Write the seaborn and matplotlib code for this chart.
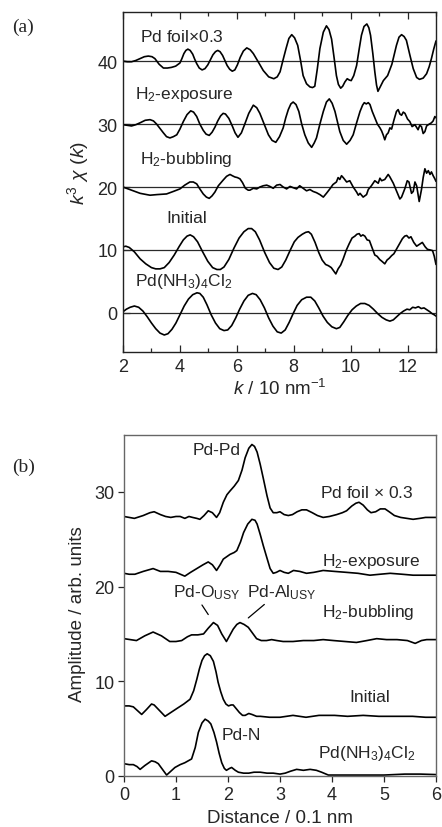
import numpy as np
import pandas as pd
import matplotlib
matplotlib.use("Agg")
import matplotlib.pyplot as plt
from matplotlib.ticker import MultipleLocator
import seaborn as sns

# ---------------- data: panel (a) k^3 chi(k), values relative to each baseline ----------------
k_foil = [2.00, 2.15, 2.30, 2.45, 2.60, 2.75, 2.89, 3.02, 3.12, 3.27, 3.42, 3.56, 3.70, 3.85, 4.00, 4.07, 4.14, 4.21, 4.28, 4.36,
          4.45, 4.52, 4.59, 4.68, 4.78, 4.88, 4.98, 5.07, 5.16, 5.25, 5.33, 5.41, 5.50, 5.58, 5.66, 5.75, 5.84, 5.93, 6.02, 6.12,
          6.23, 6.35, 6.47, 6.58, 6.75, 6.93, 7.12, 7.30, 7.42, 7.52, 7.62, 7.73, 7.83, 7.93, 8.03, 8.14, 8.24, 8.33, 8.45, 8.57,
          8.66, 8.74, 8.83, 8.92, 9.04, 9.15, 9.24, 9.33, 9.42, 9.50, 9.57, 9.65, 9.72, 9.80, 9.88, 9.95, 10.02, 10.11, 10.21, 10.30,
          10.38, 10.47, 10.57, 10.64, 10.70, 10.78, 10.85, 10.91, 10.96, 11.05, 11.15, 11.30, 11.45, 11.53, 11.61, 11.70, 11.79, 11.88, 11.96, 12.08,
          12.20, 12.32, 12.42, 12.55, 12.67, 12.76, 12.84, 12.92, 13.00]
chi_foil = [0.0, -0.1, -0.1, 0.1, 0.4, 0.7, 0.8, 0.7, 0.4, -0.5, -1.1, -1.1, -1.0, -0.8, -0.3, 0.4, 1.2, 1.7, 1.9, 1.7,
            1.1, 0.3, -0.4, -1.1, -1.4, -1.2, -0.6, 0.2, 1.0, 1.5, 1.7, 1.5, 0.9, 0.1, -0.7, -1.3, -1.6, -1.4, -0.6, 0.6,
            1.6, 2.1, 1.8, 1.2, -0.1, -1.5, -2.5, -2.8, -2.5, -1.7, 0.1, 2.0, 3.6, 4.2, 3.7, 2.5, 0.1, -2.3, -3.6, -4.1,
            -4.2, -4.0, -1.2, 2.0, 4.6, 5.6, 5.0, 3.5, 0.5, -2.3, -3.7, -4.3, -4.0, -3.3, -2.8, -3.0, -3.1, -2.3, -0.7, 1.9,
            4.1, 5.5, 5.9, 5.3, 4.1, 1.2, -1.7, -3.8, -4.8, -4.0, -3.1, -2.3, -0.5, 1.0, 2.5, 3.8, 4.2, 3.9, 3.3, 1.0,
            -1.2, -2.6, -2.9, -2.7, -2.0, -0.9, 0.4, 1.9, 3.2]

k_exp = [2.00, 2.15, 2.30, 2.45, 2.60, 2.78, 2.95, 3.07, 3.18, 3.30, 3.42, 3.53, 3.65, 3.77, 3.89, 4.00, 4.12, 4.25, 4.38, 4.48,
         4.59, 4.70, 4.82, 4.92, 5.03, 5.13, 5.23, 5.33, 5.43, 5.52, 5.60, 5.72, 5.84, 5.94, 6.04, 6.16, 6.28, 6.42, 6.58, 6.70,
         6.81, 6.96, 7.11, 7.24, 7.37, 7.50, 7.63, 7.72, 7.81, 7.90, 7.98, 8.08, 8.18, 8.28, 8.39, 8.51, 8.63, 8.72, 8.80, 8.92,
         9.04, 9.15, 9.25, 9.35, 9.45, 9.54, 9.62, 9.74, 9.86, 9.98, 10.09, 10.21, 10.33, 10.42, 10.48, 10.55, 10.62, 10.68, 10.76, 10.85,
         10.94, 11.03, 11.09, 11.15, 11.20, 11.26, 11.32, 11.38, 11.44, 11.52, 11.61, 11.67, 11.73, 11.79, 11.85, 11.91, 12.00, 12.08, 12.16, 12.26,
         12.37, 12.43, 12.49, 12.55, 12.61, 12.67, 12.73, 12.84, 12.90, 12.96, 13.00]
chi_exp = [-0.1, -0.2, -0.3, -0.1, 0.2, 0.6, 0.7, 0.5, 0.0, -0.7, -1.4, -2.0, -2.2, -2.0, -1.7, -0.8, 0.4, 1.5, 2.1, 1.9,
           1.2, 0.0, -1.0, -1.6, -1.8, -1.3, -0.5, 0.5, 1.3, 1.7, 1.6, 0.9, -0.3, -1.4, -2.1, -1.4, 0.0, 1.7, 3.0, 2.6,
           1.7, 0.0, -1.7, -2.6, -2.9, -2.0, -0.6, 1.0, 2.3, 3.2, 3.5, 3.1, 2.0, 0.0, -1.7, -3.0, -3.7, -3.0, -2.2, 0.0,
           2.0, 3.5, 4.0, 3.3, 2.0, 0.3, -1.2, -2.6, -3.2, -2.6, -1.7, 0.2, 2.0, 3.0, 3.4, 3.2, 3.4, 3.1, 2.0, 1.0,
           0.0, -0.6, -1.1, -1.8, -2.5, -1.7, -1.4, -0.6, -0.8, 0.6, 2.0, 2.3, 1.6, 1.4, 1.9, 1.7, 0.8, 0.4, -0.4, -0.1,
           -0.9, -0.2, -0.4, -1.5, -1.2, -0.3, -0.1, 0.2, 0.5, 1.2, 1.0]

k_bub = [2.00, 2.18, 2.36, 2.60, 2.83, 2.95, 3.20, 3.53, 3.77, 4.00, 4.17, 4.35, 4.47, 4.59, 4.70, 4.82, 4.93, 5.03, 5.13, 5.23,
         5.35, 5.52, 5.64, 5.76, 5.84, 5.93, 6.02, 6.11, 6.20, 6.30, 6.40, 6.46, 6.58, 6.70, 6.81, 6.93, 7.05, 7.16, 7.28, 7.40,
         7.52, 7.63, 7.75, 7.87, 7.98, 8.10, 8.21, 8.33, 8.45, 8.57, 8.68, 8.80, 8.92, 9.04, 9.15, 9.27, 9.38, 9.50, 9.56, 9.62,
         9.68, 9.74, 9.86, 9.97, 10.09, 10.21, 10.27, 10.33, 10.44, 10.56, 10.62, 10.73, 10.85, 10.97, 11.03, 11.09, 11.20, 11.32, 11.38, 11.50,
         11.61, 11.73, 11.79, 11.85, 11.91, 11.99, 12.05, 12.14, 12.20, 12.26, 12.32, 12.41, 12.49, 12.55, 12.61, 12.67, 12.73, 12.79, 12.84, 12.90,
         12.96, 13.00]
chi_bub = [0.0, -0.3, -0.6, -1.0, -1.2, -1.3, -1.2, -1.1, -0.7, -0.3, 0.3, 0.8, 0.8, 0.5, -0.3, -1.1, -1.6, -1.8, -1.4, -0.8,
           0.2, 1.1, 1.7, 2.0, 1.8, 1.6, 1.5, 1.3, 0.7, -0.2, -0.5, -0.5, -0.2, -0.3, 0.0, 0.2, 0.3, 0.1, -0.2, 0.3,
           0.4, 0.0, -0.3, 0.1, -0.1, -0.3, 0.2, -0.2, -0.6, -0.4, -0.7, -0.9, -1.2, -1.6, -1.0, -0.3, 0.4, 0.8, 1.5, 1.2,
           1.8, 1.5, 0.8, 1.0, 0.0, -0.8, -1.3, -1.0, -1.6, -1.2, -0.4, 0.2, 1.0, 0.6, 1.4, 1.0, 1.2, 2.0, 1.6, 0.6,
           -0.6, -1.9, -1.6, -0.9, -0.2, 1.0, 0.8, -1.0, -0.7, 0.8, 0.2, -2.3, -0.4, 1.5, 2.9, 2.2, 2.6, 2.0, 2.4, 1.8,
           1.3, 0.9]

k_ini = [2.00, 2.10, 2.22, 2.40, 2.60, 2.80, 3.00, 3.15, 3.30, 3.45, 3.62, 3.80, 3.98, 4.12, 4.25, 4.36, 4.48, 4.62, 4.80, 4.98,
         5.15, 5.30, 5.42, 5.55, 5.72, 5.90, 6.08, 6.25, 6.40, 6.52, 6.65, 6.80, 6.98, 7.15, 7.30, 7.45, 7.58, 7.72, 7.88, 8.02,
         8.15, 8.30, 8.42, 8.52, 8.62, 8.75, 8.88, 9.00, 9.12, 9.22, 9.32, 9.40, 9.48, 9.56, 9.65, 9.74, 9.85, 9.95, 10.05, 10.15,
         10.22, 10.30, 10.36, 10.43, 10.50, 10.58, 10.66, 10.75, 10.85, 10.93, 11.02, 11.10, 11.20, 11.28, 11.36, 11.44, 11.52, 11.62, 11.72, 11.82,
         11.90, 11.97, 12.05, 12.12, 12.22, 12.32, 12.42, 12.52, 12.62, 12.70, 12.80, 12.88, 12.94, 13.00]
chi_ini = [0.5, 0.6, 0.4, -0.3, -1.4, -2.2, -2.8, -3.0, -3.0, -2.8, -2.0, -0.8, 0.6, 1.6, 2.2, 2.4, 2.1, 1.3, -0.3, -1.8,
           -2.8, -3.1, -3.1, -2.7, -1.5, 0.3, 1.9, 2.9, 3.4, 3.4, 2.9, 1.6, -0.4, -2.0, -2.9, -3.1, -2.7, -1.6, 0.0, 1.3,
           2.0, 2.5, 2.8, 2.9, 2.5, 1.2, -0.4, -1.6, -2.3, -2.5, -2.8, -3.3, -3.8, -3.0, -2.4, -1.4, 0.0, 1.0, 1.9, 2.2,
           2.5, 2.6, 2.2, 2.4, 2.2, 1.6, 1.5, 0.4, -0.8, -1.0, -1.5, -1.8, -2.2, -1.6, -1.3, -0.9, -0.6, 0.2, 1.0, 1.8,
           2.2, 2.3, 1.9, 2.1, 1.2, 0.6, 0.9, 1.2, 0.5, 0.1, 0.0, -0.1, -1.0, -2.3]

k_ref = [2.00, 2.12, 2.25, 2.40, 2.55, 2.70, 2.85, 3.00, 3.15, 3.30, 3.45, 3.58, 3.72, 3.86, 4.00, 4.15, 4.30, 4.45, 4.60, 4.70,
         4.82, 4.95, 5.10, 5.25, 5.40, 5.55, 5.68, 5.82, 5.96, 6.10, 6.25, 6.40, 6.55, 6.68, 6.82, 6.97, 7.12, 7.27, 7.42, 7.56,
         7.70, 7.84, 7.98, 8.12, 8.28, 8.45, 8.60, 8.74, 8.88, 9.03, 9.18, 9.34, 9.50, 9.62, 9.76, 9.90, 10.05, 10.20, 10.35, 10.50,
         10.65, 10.80, 10.95, 11.10, 11.25, 11.38, 11.50, 11.62, 11.74, 11.86, 11.98, 12.08, 12.18, 12.28, 12.38, 12.48, 12.58, 12.68, 12.78, 12.86,
         12.94, 13.00]
chi_ref = [0.2, 0.6, 0.9, 1.1, 0.9, 0.3, -0.6, -1.6, -2.5, -3.2, -3.5, -3.3, -2.6, -1.6, -0.3, 1.1, 2.2, 2.9, 3.2, 3.1,
           2.5, 1.3, -0.3, -1.6, -2.5, -2.8, -2.7, -2.0, -0.8, 0.6, 1.9, 2.8, 3.1, 2.9, 2.1, 0.8, -0.8, -2.1, -3.0, -3.2,
           -2.7, -1.5, -0.1, 1.2, 2.1, 2.5, 2.5, 1.9, 0.8, -0.5, -1.5, -2.2, -2.5, -2.3, -1.4, -0.4, 0.5, 1.1, 1.5, 1.5,
           1.2, 0.6, -0.1, -0.7, -1.1, -1.3, -1.1, -0.6, -0.1, 0.3, 0.6, 0.5, 0.9, 0.8, 1.0, 0.7, 0.8, 0.5, 0.2, -0.1,
           -0.3, -0.5]

offsets_a = [40, 30, 20, 10, 0]
names_a = ["Pd foil$\\times$0.3", "H$_2$-exposure", "H$_2$-bubbling", "Initial", "Pd(NH$_3$)$_4$Cl$_2$"]
label_pos_a = [(2.6, 44.0), (2.42, 34.9), (2.6, 24.6), (3.53, 15.2), (2.42, 5.1)]

# ---------------- data: panel (b) FT amplitude (stacked as drawn) ----------------
r_foil = [0.00, 0.10, 0.20, 0.37, 0.50, 0.58, 0.70, 0.80, 0.90, 1.00, 1.08, 1.17, 1.25, 1.32, 1.40, 1.46, 1.54, 1.62, 1.70, 1.78,
          1.84, 1.91, 1.98, 2.04, 2.12, 2.20, 2.27, 2.33, 2.40, 2.46, 2.51, 2.56, 2.62, 2.68, 2.75, 2.81, 2.87, 2.94, 3.00, 3.08,
          3.16, 3.24, 3.33, 3.42, 3.51, 3.62, 3.72, 3.83, 3.95, 4.09, 4.20, 4.28, 4.38, 4.46, 4.52, 4.60, 4.68, 4.75, 4.84, 4.93,
          5.02, 5.10, 5.20, 5.32, 5.44, 5.56, 5.69, 5.80, 5.90, 6.00]
amp_foil = [27.4, 27.3, 27.2, 27.5, 27.8, 27.9, 27.6, 27.4, 27.3, 27.4, 27.4, 27.2, 27.4, 27.3, 27.2, 27.1, 27.5, 28.0, 27.8, 27.3,
            27.8, 28.9, 29.7, 30.1, 30.6, 31.2, 32.3, 33.6, 34.6, 35.0, 34.8, 34.2, 32.9, 31.4, 29.6, 28.3, 27.8, 27.8, 27.9, 27.6,
            27.5, 27.6, 27.9, 28.1, 28.1, 27.8, 27.5, 27.3, 27.4, 27.6, 27.8, 28.0, 28.5, 28.8, 28.9, 28.6, 28.1, 27.8, 27.9, 28.2,
            28.2, 27.9, 27.5, 27.3, 27.2, 27.1, 27.2, 27.3, 27.3, 27.3]

r_exp = [0.00, 0.10, 0.21, 0.37, 0.56, 0.70, 0.85, 1.00, 1.17, 1.28, 1.40, 1.52, 1.62, 1.70, 1.78, 1.85, 1.91, 2.04, 2.12, 2.17,
         2.24, 2.30, 2.38, 2.46, 2.52, 2.56, 2.62, 2.68, 2.75, 2.81, 2.87, 2.93, 3.00, 3.08, 3.16, 3.26, 3.38, 3.51, 3.65, 3.83,
         4.05, 4.28, 4.50, 4.73, 4.92, 5.12, 5.35, 5.56, 5.78, 6.00]
amp_exp = [21.4, 21.3, 21.3, 21.6, 21.9, 21.6, 21.6, 21.5, 21.1, 21.5, 21.9, 22.3, 22.6, 22.3, 21.7, 22.3, 22.9, 23.4, 23.6, 23.8,
           24.7, 25.7, 26.6, 27.1, 27.0, 26.6, 25.5, 24.3, 23.0, 21.9, 21.4, 21.5, 21.7, 21.5, 21.4, 21.7, 21.6, 21.4, 21.5, 21.7,
           21.6, 21.5, 21.4, 21.2, 21.3, 21.4, 21.3, 21.2, 21.2, 21.2]

r_bub = [0.00, 0.12, 0.24, 0.40, 0.56, 0.72, 0.88, 1.00, 1.11, 1.22, 1.30, 1.42, 1.53, 1.62, 1.72, 1.80, 1.88, 1.97, 2.03, 2.10,
         2.17, 2.23, 2.31, 2.39, 2.47, 2.55, 2.64, 2.74, 2.84, 2.94, 3.06, 3.25, 3.45, 3.65, 3.83, 4.03, 4.25, 4.47, 4.67, 4.86,
         5.05, 5.25, 5.45, 5.60, 5.72, 5.82, 6.00]
amp_bub = [14.5, 14.4, 14.3, 14.8, 15.2, 14.8, 14.2, 14.2, 14.3, 14.7, 14.9, 14.9, 15.0, 15.6, 16.2, 15.9, 15.0, 14.2, 14.8, 15.5,
           16.0, 16.2, 16.0, 15.7, 15.1, 14.5, 14.3, 14.3, 14.4, 14.3, 14.2, 14.2, 14.3, 14.3, 14.4, 14.3, 14.2, 14.1, 14.3, 14.5,
           14.4, 14.4, 14.3, 14.0, 14.3, 14.4, 14.4]

r_ini = [0.00, 0.10, 0.18, 0.26, 0.34, 0.43, 0.53, 0.58, 0.65, 0.72, 0.79, 0.90, 1.01, 1.15, 1.27, 1.34, 1.40, 1.45, 1.50, 1.55,
         1.60, 1.66, 1.72, 1.77, 1.81, 1.86, 1.91, 1.96, 2.01, 2.06, 2.10, 2.16, 2.22, 2.28, 2.33, 2.40, 2.46, 2.55, 2.62, 2.80,
         3.00, 3.25, 3.50, 3.75, 4.05, 4.30, 4.60, 4.90, 5.20, 5.55, 5.80, 6.00]
amp_ini = [7.4, 7.4, 7.3, 6.9, 6.5, 7.0, 7.6, 7.5, 7.1, 6.7, 6.3, 6.7, 7.1, 7.6, 8.1, 9.0, 10.2, 11.3, 12.2, 12.7,
           12.9, 12.7, 12.1, 11.0, 9.9, 8.9, 8.1, 7.6, 7.4, 7.5, 7.5, 7.1, 6.7, 6.4, 6.4, 6.6, 6.5, 6.3, 6.3, 6.2,
           6.2, 6.4, 6.2, 6.4, 6.4, 6.3, 6.4, 6.3, 6.3, 6.3, 6.2, 6.2]

r_ref = [0.00, 0.10, 0.18, 0.25, 0.31, 0.40, 0.53, 0.60, 0.66, 0.74, 0.82, 0.90, 0.98, 1.08, 1.17, 1.30, 1.37, 1.43, 1.50, 1.56,
         1.62, 1.67, 1.73, 1.78, 1.83, 1.88, 1.93, 1.97, 2.03, 2.07, 2.14, 2.20, 2.30, 2.40, 2.50, 2.62, 2.75, 2.87, 3.00, 3.10,
         3.20, 3.32, 3.45, 3.58, 3.70, 3.80, 3.93, 4.10, 4.40, 4.70, 5.00, 5.40, 5.70, 6.00]
amp_ref = [1.3, 1.2, 1.2, 1.0, 0.7, 1.1, 1.6, 1.5, 1.3, 0.7, 0.1, 0.5, 0.9, 1.2, 1.4, 1.8, 3.0, 4.6, 5.6, 6.0,
           5.8, 5.5, 4.6, 3.6, 2.4, 1.4, 0.8, 0.6, 0.8, 0.9, 0.6, 0.4, 0.3, 0.3, 0.4, 0.4, 0.3, 0.3, 0.2, 0.3,
           0.5, 0.7, 0.6, 0.7, 0.6, 0.4, 0.1, 0.1, 0.1, 0.1, 0.1, 0.2, 0.2, 0.15]

names_b = ["Pd foil $\\times$ 0.3", "H$_2$-exposure", "H$_2$-bubbling", "Initial", "Pd(NH$_3$)$_4$Cl$_2$"]
label_pos_b = [(3.77, 30.0), (3.80, 22.7), (3.80, 17.4), (4.33, 8.4), (3.74, 2.5)]
peak_labels = ["Pd-Pd", "Pd-O$_{\\mathrm{USY}}$", "Pd-Al$_{\\mathrm{USY}}$", "Pd-N"]
peak_label_pos = [(1.32, 34.5), (0.95, 19.5), (2.36, 19.5), (1.88, 4.4)]
leader_from = [(1.47, 18.3), (2.74, 18.3)]
leader_to = [(1.65, 16.8), (2.35, 16.5)]

# ---------------- style ----------------
sns.set_style("ticks")
plt.rcParams["font.family"] = ["Liberation Sans", "DejaVu Sans"]
plt.rcParams["mathtext.fontset"] = "custom"
plt.rcParams["mathtext.rm"] = "Liberation Sans"
plt.rcParams["mathtext.it"] = "Liberation Sans:italic"
plt.rcParams["mathtext.bf"] = "Liberation Sans:bold"

LABEL_FS = 12.5

fig = plt.figure(figsize=(4.42, 8.28), dpi=100)
ax1 = fig.add_axes([0.2783, 0.5737, 0.7081, 0.4106])
ax2 = fig.add_axes([0.2805, 0.0616, 0.7059, 0.4118])

# ---------------- panel (a) ----------------
curves_a = [(k_foil, chi_foil), (k_exp, chi_exp), (k_bub, chi_bub), (k_ini, chi_ini), (k_ref, chi_ref)]
for (kk, cc), off in zip(curves_a, offsets_a):
    ax1.axhline(off, color="#2a2a2a", lw=0.9, zorder=1)
    df = pd.DataFrame({"k": kk, "y": np.array(cc) + off})
    sns.lineplot(data=df, x="k", y="y", ax=ax1, color="black", lw=1.2, estimator=None, zorder=2)
for name, (x, y) in zip(names_a, label_pos_a):
    ax1.text(x, y, name, fontsize=LABEL_FS, ha="left", va="center")

ax1.set_xlim(2, 13)
ax1.set_ylim(-6.2, 47.8)
ax1.set_xticks(range(2, 14, 2))
ax1.xaxis.set_minor_locator(MultipleLocator(1))
ax1.set_yticks([0, 10, 20, 30, 40])
ax1.tick_params(axis="both", which="both", direction="in", labelsize=13, pad=4)
ax1.tick_params(axis="x", which="both", top=True)
ax1.tick_params(axis="both", which="major", length=5, width=0.9)
ax1.tick_params(axis="x", which="minor", length=3, width=0.9)
ax1.set_xlabel("")
ax1.set_ylabel("")
for s in ax1.spines.values():
    s.set_color("#222222")
    s.set_linewidth(1.0)

# ---------------- panel (b) ----------------
curves_b = [(r_foil, amp_foil), (r_exp, amp_exp), (r_bub, amp_bub), (r_ini, amp_ini), (r_ref, amp_ref)]
for rr, aa in curves_b:
    df = pd.DataFrame({"r": rr, "a": aa})
    sns.lineplot(data=df, x="r", y="a", ax=ax2, color="black", lw=1.2, estimator=None)
for name, (x, y) in zip(names_b, label_pos_b):
    ax2.text(x, y, name, fontsize=LABEL_FS, ha="left", va="center")
for name, (x, y) in zip(peak_labels, peak_label_pos):
    ax2.text(x, y, name, fontsize=LABEL_FS, ha="left", va="center")
for p0, p1 in zip(leader_from, leader_to):
    ax2.annotate("", xy=p1, xytext=p0, arrowprops=dict(arrowstyle="-", lw=0.9, color="black"))

ax2.set_xlim(0, 6)
ax2.set_ylim(0, 36)
ax2.set_xticks(range(0, 7))
ax2.set_yticks([0, 10, 20, 30])
ax2.tick_params(axis="both", which="major", direction="out", labelsize=13, length=4.5, width=0.9, pad=2.5)
ax2.set_xlabel("")
ax2.set_ylabel("")
for s in ax2.spines.values():
    s.set_color("#666666")
    s.set_linewidth(1.0)

# ---------------- labels ----------------
fig.text(78 / 442, 1 - 173 / 828, r"$k^3\ \chi\ (k)$", rotation=90, ha="center", va="center", fontsize=14)
fig.text(280 / 442, 1 - 389 / 828, r"$k$ / 10 nm$^{-1}$", ha="center", va="center", fontsize=13.5)
fig.text(78 / 442, 1 - 614 / 828, "Amplitude / arb. units", rotation=90, ha="center", va="center", fontsize=13.5)
fig.text(280 / 442, 1 - 819 / 828, "Distance / 0.1 nm", ha="center", va="center", fontsize=13.5)
fig.text(12 / 442, 1 - 27 / 828, "(a)", family="Liberation Serif", fontsize=14, ha="left", va="center")
fig.text(12 / 442, 1 - 467 / 828, "(b)", family="Liberation Serif", fontsize=14, ha="left", va="center")

fig.savefig("out.png", dpi=100)
